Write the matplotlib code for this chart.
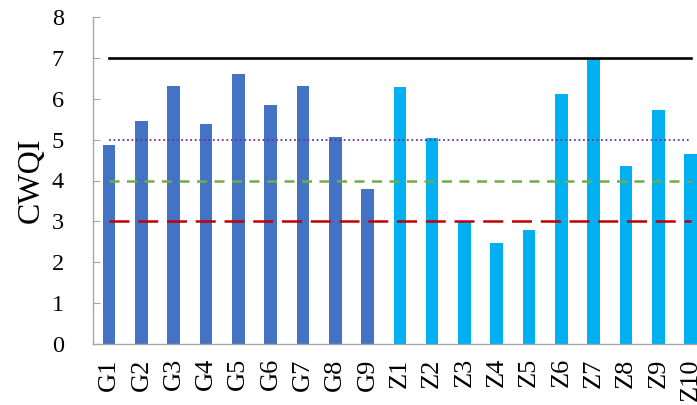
import numpy as np
import matplotlib
matplotlib.use("Agg")
import matplotlib.pyplot as plt

# CWQI per sampling site
g_sites = ["G1", "G2", "G3", "G4", "G5", "G6", "G7", "G8", "G9"]
g_cwqi = [4.87, 5.46, 6.31, 5.37, 6.59, 5.84, 6.31, 5.06, 3.80]
z_sites = ["Z1", "Z2", "Z3", "Z4", "Z5", "Z6", "Z7", "Z8", "Z9", "Z10"]
z_cwqi = [6.28, 5.03, 3.02, 2.48, 2.79, 6.12, 6.97, 4.36, 5.71, 4.65]

# reference levels
levels = [7, 5, 4, 3]
level_colors = ["#000000", "#7030A0", "#70AD47", "#C00000"]

plt.rcParams["font.family"] = ["Liberation Serif", "DejaVu Serif"]

fig = plt.figure(figsize=(6.97, 4.05), dpi=100)
ax = fig.add_axes([93 / 697, 60.7 / 405, 613.7 / 697, 327.6 / 405])

labels = g_sites + z_sites
x = np.arange(len(labels))
ng = len(g_sites)
ax.bar(x[:ng], g_cwqi, width=0.39, color="#4472C4", zorder=2)
ax.bar(x[ng:], z_cwqi, width=0.39, color="#00B0F0", zorder=2)

x0, x1 = x[0], x[-1]
ax.plot([x0, x1], [levels[0]] * 2, color=level_colors[0], lw=1.9, zorder=3)
ax.plot([x0, x1], [levels[1]] * 2, color=level_colors[1], lw=1.3,
        linestyle=(0, (1, 1.5)), zorder=3)
ax.plot([x0, x1], [levels[2]] * 2, color=level_colors[2], lw=1.8,
        linestyle=(0, (4, 3)), zorder=3)
ax.plot([x0, x1], [levels[3]] * 2, color=level_colors[3], lw=1.8,
        linestyle=(0, (8, 3.5)), zorder=3)

ax.set_xlim(-0.5, len(labels) - 0.5)
ax.set_ylim(0, 8)
ax.set_yticks(range(0, 9))
ax.set_xticks(x)
ax.set_xticklabels(labels, rotation=90)

for s in ["top", "right"]:
    ax.spines[s].set_visible(False)
for s in ["left", "bottom"]:
    ax.spines[s].set_color("#A6A6A6")
    ax.spines[s].set_linewidth(1.0)

ax.tick_params(axis="y", direction="in", length=5, color="#A6A6A6",
               labelsize=17.5, pad=21)
ax.tick_params(axis="x", length=0, labelsize=19, pad=10)
ax.set_ylabel("CWQI", fontsize=23, labelpad=4)

plt.savefig("out.png", dpi=100)
